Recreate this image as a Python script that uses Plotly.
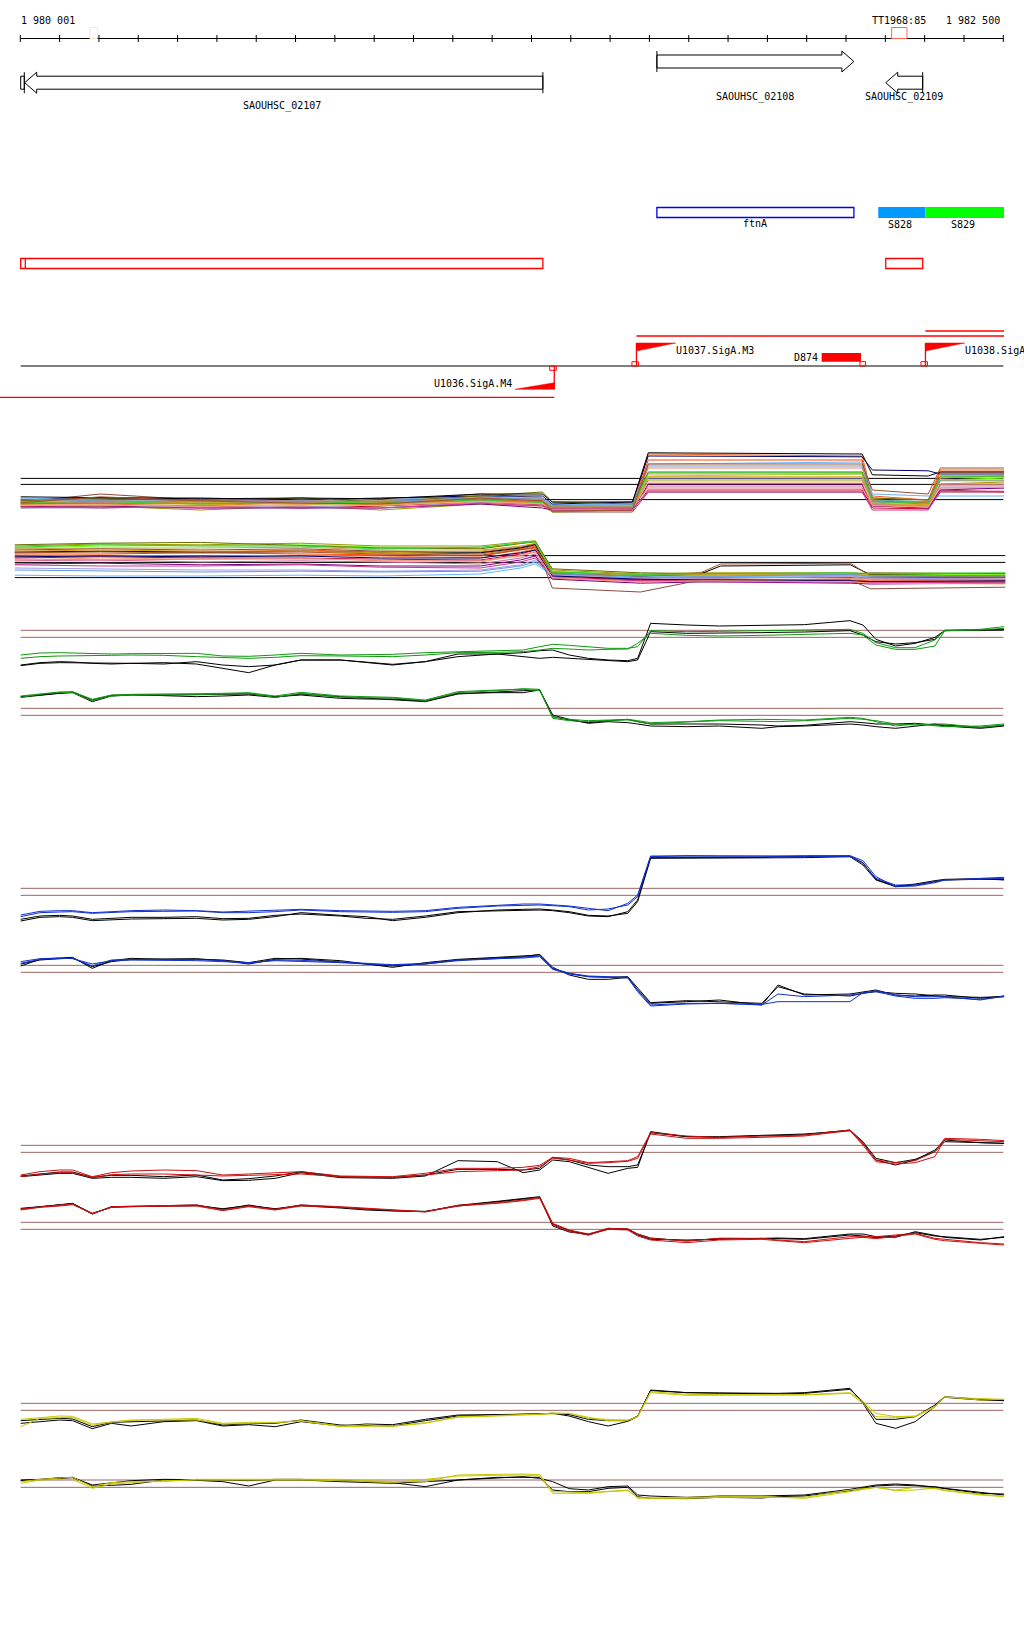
import plotly.graph_objects as go

# ======================= DATA =======================
VIEW_START = 1980001
VIEW_END = 1982500
RULER_TICKS = list(range(1980000, 1982501, 100))
RULER_LEFT_LABEL = "1 980 001"
RULER_RIGHT_LABEL = "1 982 500"

GENE_NAMES = ["SAOUHSC_02107", "SAOUHSC_02108", "SAOUHSC_02109"]
GENE_STARTS = [1979990, 1981619, 1982201]
GENE_ENDS = [1981329, 1982120, 1982295]
GENE_STRANDS = ["-", "+", "-"]

TERM_NAMES = ["", "TT1968:85"]
TERM_STARTS = [1980177, 1982216]
TERM_ENDS = [1980196, 1982255]

OPERON_NAMES = ["ftnA"]
OPERON_STARTS = [1981619]
OPERON_ENDS = [1982120]

SRNA_NAMES = ["S828", "S829"]
SRNA_STARTS = [1982182, 1982302]
SRNA_ENDS = [1982302, 1982502]

REGION_STARTS = [1979990, 1982201]
REGION_ENDS = [1981329, 1982295]

TSS_NAMES = ["U1036.SigA.M4", "U1037.SigA.M3", "U1038.SigA"]
TSS_POS = [1981358, 1981567, 1982302]
TSS_STRANDS = ["-", "+", "+"]
TRANSCRIPT_ENDS = [1979948, 1982502, 1982502]

TERM_SITE_NAMES = ["D874"]
TERM_SITE_STARTS = [1982038]
TERM_SITE_ENDS = [1982138]

# ---- panel A (many conditions), probe positions ----
A1_POS = [1980001, 1980204, 1980459, 1980713, 1980916, 1981170, 1981328, 1981353,
          1981557, 1981597, 1982141, 1982167, 1982309, 1982340, 1982502]
A2_POS = [1979986, 1980204, 1980459, 1980713, 1980916, 1981170, 1981272, 1981310,
          1981353, 1981577, 1981730, 1981781, 1982111, 1982162, 1982505]

A1_SERIES = [
    [24.5, 26.5, 25.0, 24.5, 24.8, 26.5, 25.5, 22.0, 22.0, 27.0, 27.0, 24.0, 23.5, 27.5, 27.0],
    [24.0, 24.0, 23.5, 24.5, 24.0, 25.0, 24.5, 23.0, 23.0, 36.5, 36.0, 26.0, 25.0, 32.5, 32.5],
    [23.0, 23.5, 22.5, 23.5, 22.5, 24.0, 23.5, 22.0, 22.5, 30.0, 30.0, 24.5, 24.0, 29.0, 29.5],
    [24.5, 24.0, 24.5, 24.0, 23.5, 25.5, 25.0, 23.5, 23.5, 31.0, 31.5, 25.0, 24.5, 30.0, 30.5],
    [25.5, 25.0, 25.0, 25.5, 25.0, 26.0, 25.5, 23.8, 24.0, 34.0, 34.5, 26.5, 26.0, 26.0, 26.0],
    [25.0, 25.5, 25.5, 25.0, 25.5, 26.0, 26.0, 24.0, 24.5, 36.0, 35.8, 32.5, 32.3, 31.5, 31.5],
    [24.0, 24.5, 25.0, 24.8, 24.0, 25.0, 24.0, 23.0, 23.0, 28.5, 28.5, 23.5, 23.0, 28.0, 28.0],
    [23.5, 23.0, 23.5, 23.0, 23.5, 24.5, 23.8, 22.5, 22.5, 27.5, 27.5, 23.0, 22.8, 27.0, 27.0],
    [24.8, 25.0, 24.0, 25.0, 24.5, 25.5, 25.0, 23.5, 23.5, 33.0, 33.0, 25.5, 25.0, 30.5, 31.0],
    [23.5, 23.5, 23.0, 23.0, 23.0, 24.0, 23.0, 22.5, 22.5, 29.0, 29.0, 23.5, 23.0, 27.5, 28.0],
    [24.0, 24.8, 24.5, 24.5, 24.8, 25.8, 25.2, 23.0, 23.0, 31.5, 31.5, 24.0, 23.5, 29.0, 29.0],
    [23.0, 23.0, 23.5, 23.5, 23.0, 24.5, 24.0, 23.0, 23.0, 30.5, 30.5, 24.5, 24.5, 28.5, 28.5],
    [24.8, 25.5, 24.8, 25.5, 24.5, 26.0, 27.0, 24.5, 24.0, 32.0, 32.0, 25.5, 25.0, 31.0, 31.0],
    [24.2, 24.2, 24.2, 24.0, 24.3, 25.2, 24.6, 23.2, 23.2, 35.0, 35.0, 24.8, 24.3, 32.0, 32.0],
    [23.8, 23.6, 23.8, 24.2, 23.8, 24.8, 24.2, 22.8, 22.8, 30.8, 30.8, 24.2, 23.8, 29.8, 29.8],
    [24.6, 24.4, 24.8, 24.4, 24.6, 25.4, 24.8, 23.4, 23.4, 28.0, 28.0, 23.8, 23.2, 28.8, 28.8],
    [25.2, 24.8, 24.6, 24.8, 24.6, 25.6, 25.2, 23.6, 23.8, 33.5, 33.5, 25.0, 24.6, 30.0, 30.0],
    [24.4, 24.6, 24.0, 24.6, 24.2, 25.0, 24.4, 23.2, 23.2, 31.8, 31.8, 24.6, 24.2, 30.8, 30.8],
    [23.6, 23.8, 23.4, 23.8, 23.6, 24.6, 24.0, 22.6, 22.6, 29.5, 29.5, 23.6, 23.2, 28.2, 28.2],
    [25.8, 25.5, 25.3, 25.5, 25.3, 26.5, 26.5, 24.5, 24.5, 36.8, 36.5, 31.3, 31.0, 32.0, 32.0],
    [24.3, 25.8, 24.8, 24.2, 24.0, 25.5, 24.8, 22.2, 22.5, 34.0, 34.0, 27.5, 26.5, 33.0, 33.0],
    [23.2, 23.2, 23.0, 23.2, 23.0, 24.2, 23.5, 22.8, 22.8, 27.0, 27.0, 22.5, 22.5, 27.2, 27.2],
]
A2_SERIES = [
    [13.5, 14.0, 13.8, 14.2, 13.5, 13.5, 14.5, 14.8, 7.5, 6.5, 6.8, 6.8, 6.8, 6.5, 6.5],
    [13.0, 13.5, 13.6, 13.8, 13.2, 13.0, 14.2, 14.5, 7.2, 6.2, 6.5, 6.5, 6.6, 6.4, 6.3],
    [13.8, 14.2, 14.4, 13.6, 13.0, 12.8, 14.0, 14.6, 7.8, 6.8, 6.6, 6.6, 6.4, 6.8, 6.6],
    [12.8, 13.0, 13.0, 13.2, 12.5, 12.5, 13.5, 14.0, 7.0, 6.0, 6.2, 6.2, 6.2, 5.8, 5.8],
    [12.0, 12.2, 12.0, 12.5, 12.0, 11.5, 12.8, 13.5, 6.5, 5.5, 5.8, 5.8, 5.5, 5.5, 5.2],
    [11.5, 11.5, 11.8, 11.5, 11.2, 11.0, 12.5, 13.0, 6.2, 5.0, 5.2, 5.2, 5.0, 4.8, 5.0],
    [11.0, 11.2, 11.0, 11.2, 11.0, 10.5, 12.0, 12.8, 6.0, 4.8, 5.0, 5.0, 5.2, 5.0, 4.8],
    [10.5, 10.8, 10.5, 10.5, 10.2, 10.0, 11.5, 12.5, 5.8, 5.0, 5.0, 5.0, 4.5, 4.2, 4.5],
    [10.2, 10.0, 10.2, 10.5, 9.8, 9.8, 11.0, 12.0, 6.0, 5.5, 5.5, 5.5, 5.8, 5.2, 5.0],
    [9.8, 10.0, 9.5, 9.8, 9.5, 9.0, 10.5, 11.5, 5.5, 4.5, 4.8, 4.8, 4.8, 4.5, 4.5],
    [9.0, 9.2, 8.8, 9.0, 8.5, 8.5, 10.0, 11.0, 5.2, 4.2, 4.5, 4.5, 4.2, 4.0, 4.2],
    [8.8, 8.5, 8.5, 8.8, 8.2, 8.0, 9.5, 10.5, 5.5, 4.8, 4.6, 4.6, 4.5, 4.4, 4.6],
    [8.0, 7.8, 7.5, 7.5, 7.2, 7.5, 8.8, 10.0, 5.8, 5.5, 5.5, 5.5, 6.0, 5.5, 5.2],
    [6.2, 6.0, 6.0, 6.2, 6.0, 6.5, 8.0, 9.0, 6.2, 5.8, 5.8, 5.8, 6.2, 5.8, 5.8],
    [12.5, 12.8, 12.5, 12.8, 12.2, 12.0, 13.2, 14.0, 3.0, 2.0, 5.0, 5.0, 5.0, 2.8, 3.2],
    [12.0, 12.2, 12.0, 12.2, 11.8, 11.8, 13.0, 13.8, 6.8, 6.0, 6.5, 8.5, 8.8, 6.3, 6.0],
    [11.8, 12.0, 11.8, 12.0, 11.5, 11.2, 12.6, 13.2, 6.6, 6.0, 6.8, 9.0, 9.2, 6.0, 5.8],
    [12.2, 12.5, 12.2, 12.2, 11.8, 12.2, 13.4, 14.2, 6.8, 6.2, 6.4, 6.4, 6.5, 6.2, 6.0],
    [10.8, 11.0, 10.8, 11.0, 10.5, 10.5, 11.8, 12.5, 6.0, 5.2, 5.0, 5.0, 4.8, 4.6, 4.8],
    [7.5, 7.2, 7.0, 7.2, 7.0, 7.2, 8.5, 9.5, 6.5, 6.0, 6.0, 6.0, 6.4, 6.0, 6.0],
    [10.0, 10.5, 10.2, 10.2, 10.0, 9.5, 11.2, 12.2, 5.6, 4.5, 4.8, 4.8, 4.6, 4.2, 4.0],
    [13.2, 13.8, 13.5, 13.5, 12.8, 13.2, 14.2, 14.6, 7.0, 6.4, 6.6, 6.6, 6.8, 6.6, 6.8],
]
A_THRESHOLDS_1 = [30.4, 28.9, 25.1]
A_THRESHOLDS_2 = [11.1, 9.4, 5.6]

# ---- panels B-E probe positions ----
PROBE_POS = [1980001, 1980050, 1980100, 1980133, 1980183, 1980232, 1980282, 1980365,
             1980448, 1980515, 1980581, 1980648, 1980714, 1980814, 1980880, 1980947,
             1981030, 1981113, 1981213, 1981279, 1981321, 1981354, 1981396, 1981445,
             1981495, 1981545, 1981570, 1981603, 1981695, 1981778, 1981886, 1981927,
             1981994, 1982110, 1982143, 1982176, 1982226, 1982276, 1982326, 1982351,
             1982442, 1982502]

B1_GREEN_1 = [25.5,26.1,26.2,26.1,26.0,25.8,25.9,26.0,26.0,25.2,25.1,25.5,26.0,25.5,25.6,25.7,26.2,26.5,26.7,27.0,28.0,28.7,28.4,28.0,27.5,27.5,28.0,32.8,32.5,32.6,32.7,32.8,33.0,33.2,32.0,29.2,27.7,27.7,30.0,33.0,33.2,34.0]
B1_GREEN_2 = [24.5,25.0,25.2,25.2,25.2,25.4,25.5,25.4,25.0,24.8,24.5,24.8,25.3,25.2,25.0,25.0,25.5,26.2,26.3,26.5,27.0,27.5,27.3,27.0,27.2,27.3,29.0,32.0,31.4,31.2,31.4,31.5,31.6,32.0,31.5,28.5,27.2,27.2,28.2,32.8,33.0,33.5]
B1_BLACK_1 = [22.3,23.0,23.2,23.2,23.0,23.0,23.0,22.8,23.5,22.5,22.0,22.5,24.0,24.0,23.3,22.7,23.5,25.0,25.8,25.0,24.5,24.8,24.5,24.0,23.7,23.5,24.0,32.5,32.0,32.0,32.2,32.3,32.4,32.8,31.5,29.5,28.8,29.2,30.2,32.8,32.8,33.0]
B1_BLACK_2 = [22.5,23.2,23.5,23.4,23.0,22.8,23.0,23.2,22.8,21.5,20.2,22.5,24.0,24.0,23.2,22.5,23.5,25.8,25.8,26.2,26.8,27.0,25.5,24.5,24.0,23.8,24.5,35.0,34.5,34.2,34.4,34.5,34.6,35.8,34.5,30.2,28.2,29.0,30.8,32.8,33.0,33.2]
B2_GREEN_1 = [13.2,13.8,14.4,14.5,12.2,13.5,13.7,13.8,13.8,14.0,14.2,13.2,14.3,13.2,13.0,12.8,12.0,14.5,15.0,15.2,14.8,7.0,6.2,5.8,6.0,6.0,5.5,4.8,5.4,5.8,5.6,5.5,5.8,6.5,6.2,5.8,4.8,4.5,4.8,4.8,3.8,4.5]
B2_GREEN_2 = [12.8,13.7,14.3,14.2,11.8,13.2,13.5,13.5,13.6,13.8,14.0,12.8,14.0,12.8,12.8,12.6,11.8,14.2,14.8,15.4,15.2,6.5,5.8,5.5,5.8,6.2,5.8,5.2,5.5,6.0,6.2,6.2,6.0,6.8,6.5,5.5,4.2,4.8,4.4,4.0,4.2,4.8]
B2_BLACK_1 = [12.8,13.5,14.0,14.2,11.5,13.2,13.5,13.5,13.5,13.7,13.8,13.0,13.5,12.5,12.3,12.3,11.7,14.0,14.2,14.2,15.0,7.0,6.0,5.2,5.8,6.2,5.5,4.8,4.8,4.8,4.5,4.2,4.4,5.5,5.2,4.8,4.8,5.0,4.5,4.5,3.8,4.4]
B2_BLACK_2 = [13.0,13.6,14.2,14.4,12.0,13.4,13.6,13.4,13.0,13.2,13.5,12.8,13.8,13.0,12.5,12.0,11.5,13.8,14.5,14.8,15.0,7.5,6.2,5.0,5.5,5.2,4.8,4.2,4.0,4.2,3.5,4.0,4.2,4.8,4.5,4.0,3.5,4.2,4.8,4.2,3.5,4.2]
B_THRESHOLDS = [32.9, 30.8, 9.5, 7.4]

C1_BLUE_1 = [28.0,29.2,29.4,29.5,29.0,29.3,29.5,29.6,29.7,29.2,29.2,29.5,30.0,29.5,29.4,29.3,29.5,30.5,31.2,31.4,31.5,31.3,31.0,30.0,30.3,31.5,34.0,46.0,46.3,46.2,46.2,46.2,46.2,46.0,44.0,39.5,37.5,37.5,38.5,39.0,39.3,39.5]
C1_BLUE_2 = [28.5,29.6,29.8,29.8,29.2,29.6,29.8,30.0,29.8,29.4,29.6,30.0,30.2,29.8,29.6,29.6,29.8,30.8,31.4,31.8,31.8,31.5,31.2,30.5,29.8,32.0,34.5,46.2,46.2,46.0,46.0,46.2,46.3,46.3,44.8,40.0,37.0,37.2,38.2,39.0,39.5,39.8]
C1_BLACK_1 = [26.7,27.8,28.0,27.8,26.8,27.0,27.3,27.4,27.5,27.0,27.2,28.0,29.2,28.4,28.0,26.8,27.8,29.2,30.0,30.2,30.3,30.0,29.5,28.4,28.2,29.0,32.5,45.5,45.5,45.5,45.6,45.7,45.7,46.0,43.5,39.0,37.0,37.5,38.5,39.0,39.2,39.2]
C1_BLACK_2 = [27.2,28.2,28.4,28.2,27.2,27.5,27.8,27.8,28.0,27.4,27.5,28.4,28.8,28.2,27.5,27.2,28.2,29.5,29.8,30.0,30.0,29.8,29.2,28.2,28.0,29.5,33.0,45.8,45.8,45.7,45.8,46.0,46.0,46.2,44.2,39.2,37.2,37.8,38.8,39.2,39.4,39.0]
C2_BLUE_1 = [14.0,15.2,15.4,15.5,13.2,15.0,15.1,15.2,15.1,14.8,14.0,15.0,14.9,14.4,13.9,13.6,14.0,15.0,15.4,15.8,16.2,12.5,11.0,10.2,9.9,9.8,6.0,1.5,2.0,2.0,1.5,4.8,4.0,4.5,5.0,5.8,4.5,4.0,4.0,4.0,3.0,4.2]
C2_BLUE_2 = [14.5,15.4,15.6,15.4,13.8,14.8,15.0,15.0,14.8,14.5,14.2,14.8,14.6,14.2,13.8,13.4,13.8,14.8,15.4,15.6,16.0,12.2,10.8,10.0,9.8,9.6,5.5,1.2,1.8,2.0,1.7,2.5,2.5,2.5,5.2,5.5,4.2,3.5,3.5,3.7,3.2,4.0]
C2_BLACK_1 = [13.2,15.2,15.6,15.8,12.5,14.8,15.5,15.2,15.2,15.0,14.2,15.5,15.3,14.4,13.6,13.2,13.8,15.0,15.6,16.0,16.7,12.8,10.5,9.2,9.2,9.8,6.0,2.0,2.5,3.0,1.5,7.5,4.5,4.8,5.4,6.0,4.5,4.2,4.5,4.5,3.5,4.2]
C2_BLACK_2 = [13.8,15.0,15.4,15.6,13.0,14.5,15.2,15.4,15.4,14.8,13.8,15.2,15.5,14.8,13.8,12.8,14.2,15.2,15.8,16.2,16.5,12.4,11.0,10.0,9.8,10.0,6.5,2.2,2.8,2.5,2.0,7.0,4.8,4.2,5.0,5.5,5.0,4.8,4.2,4.0,3.8,4.0]
C_THRESHOLDS = [36.5, 34.4, 13.4, 11.3]

D1_RED_1 = [22.5,23.5,24.0,24.0,22.0,23.2,23.7,24.0,23.8,22.5,22.8,23.2,23.5,22.2,22.1,22.0,23.0,24.5,24.5,24.8,25.4,27.8,27.5,26.2,26.5,26.8,28.0,35.2,34.2,33.8,34.2,34.2,34.5,36.0,32.0,27.0,26.2,26.8,29.5,33.5,33.2,32.8]
D1_RED_2 = [22.0,22.8,23.2,23.2,21.8,22.6,22.8,22.8,22.5,22.2,22.4,22.5,22.8,22.0,21.8,21.7,22.5,23.5,23.8,24.0,25.0,27.5,27.0,26.0,26.2,26.6,27.5,34.8,33.5,33.5,33.8,34.0,34.2,35.8,31.5,26.5,25.8,26.2,28.0,33.2,32.8,32.5]
D1_BLACK_1 = [22.0,22.5,23.0,23.0,21.5,21.8,21.8,21.5,22.0,20.8,20.9,21.5,23.2,21.7,21.6,21.5,22.2,26.8,26.5,23.2,24.0,27.0,26.5,24.8,23.0,24.5,24.8,35.5,34.0,34.0,34.5,34.5,34.8,35.8,32.0,27.0,25.5,27.0,30.0,33.0,32.2,32.0]
D1_BLACK_2 = [22.2,22.8,23.4,23.4,21.8,22.4,22.4,22.0,22.5,21.0,21.4,22.2,23.5,22.0,21.9,21.8,22.5,24.2,24.2,24.0,24.5,27.8,27.0,25.5,25.0,25.0,25.5,35.2,34.0,33.8,34.3,34.3,34.6,36.0,32.5,27.5,26.2,27.2,29.5,32.5,32.2,32.0]
D2_RED_1 = [12.3,13.0,13.5,13.8,10.8,13.0,13.1,13.3,13.5,12.0,13.2,12.2,13.5,13.0,12.6,12.2,11.5,13.4,14.2,15.0,15.8,8.0,6.0,4.8,6.5,6.3,4.8,3.5,2.7,3.5,3.5,3.0,2.5,4.0,4.0,4.0,4.5,5.0,3.5,3.2,2.2,1.8]
D2_RED_2 = [12.0,12.8,13.2,13.6,11.0,12.8,13.0,13.0,13.2,11.8,13.0,12.0,13.2,12.8,12.4,12.0,11.4,13.2,14.0,14.8,15.5,7.5,5.5,4.5,6.2,6.0,4.2,3.0,2.2,3.0,3.2,2.8,2.2,3.5,3.8,3.4,4.0,4.8,3.2,2.8,2.0,1.5]
D2_BLACK_1 = [12.3,13.0,13.6,14.0,10.8,13.0,13.1,13.3,13.5,12.2,13.5,12.2,13.5,12.8,12.2,11.8,11.5,13.4,14.6,15.4,16.0,7.8,5.8,4.5,6.5,6.3,4.8,3.6,2.7,3.5,3.5,3.4,3.2,4.5,4.2,3.7,4.2,5.2,4.2,4.0,3.2,3.8]
D2_BLACK_2 = [12.5,13.1,13.7,13.9,11.0,12.8,13.0,13.2,13.3,12.4,13.3,12.4,13.3,12.6,12.0,11.7,11.6,13.2,14.4,15.2,15.8,7.2,5.4,4.8,6.2,6.2,4.5,3.2,3.0,3.2,3.4,3.6,3.4,4.8,4.8,4.0,3.8,5.5,4.4,3.8,3.0,4.0]
D_THRESHOLDS = [31.4, 29.3, 8.3, 6.2]

E1_YELLOW_1 = [30.2,30.8,31.2,31.1,28.8,29.4,29.9,30.2,30.5,29.0,29.3,29.3,29.8,28.2,28.5,28.1,29.0,31.0,31.3,31.5,31.8,32.1,32.0,30.8,29.8,30.0,31.0,38.5,37.7,37.6,37.5,37.5,37.6,38.2,35.5,32.0,31.0,31.2,34.0,37.0,36.0,36.2]
E1_YELLOW_2 = [28.0,30.5,30.7,30.8,28.4,29.4,30.0,30.0,30.0,28.8,29.0,29.2,29.7,28.0,28.1,28.2,29.2,30.8,31.2,31.5,31.7,31.9,32.0,30.5,30.2,29.9,31.0,38.2,37.4,37.4,37.4,37.5,37.5,38.0,35.0,31.0,30.8,31.0,33.8,36.8,36.4,36.2]
E1_BLACK_1 = [29.0,29.5,30.0,29.8,27.4,29.0,28.2,29.5,29.8,28.2,28.6,28.0,29.5,28.2,28.8,28.6,30.2,31.5,31.6,31.7,31.8,32.0,31.2,29.5,28.2,29.6,31.0,39.0,38.2,38.1,38.0,38.0,38.2,39.5,35.0,29.0,27.5,29.5,34.0,36.8,36.0,35.8]
E1_BLACK_2 = [29.8,30.2,30.5,30.3,28.0,29.3,29.5,29.8,30.0,28.5,28.9,29.0,30.0,28.5,28.3,28.2,29.8,31.2,31.5,31.7,31.9,32.0,31.6,30.2,29.8,29.8,31.2,38.8,38.2,38.0,37.8,37.8,38.0,39.2,35.5,30.2,30.2,31.0,34.5,37.0,36.2,36.0]
E2_YELLOW_1 = [11.5,12.2,12.6,12.8,10.0,11.2,11.5,11.5,12.2,12.2,12.2,12.2,12.2,12.2,11.8,11.5,11.5,13.5,13.7,13.8,13.6,8.5,8.4,8.2,8.6,9.0,6.5,6.6,6.8,7.0,7.0,6.8,6.5,8.5,9.2,9.8,8.8,9.0,9.6,9.0,7.7,7.2]
E2_YELLOW_2 = [11.0,12.0,12.2,12.2,9.5,10.8,11.2,11.8,12.0,12.0,12.1,12.2,12.0,11.8,11.5,11.2,12.2,13.2,13.4,13.5,13.2,8.0,8.0,8.0,8.5,8.8,6.8,6.5,6.5,6.8,6.8,6.8,6.8,9.0,9.5,9.8,9.0,9.8,9.4,8.8,7.5,7.0]
E2_BLACK_1 = [11.8,12.0,12.4,12.7,10.2,10.4,10.7,12.0,11.9,11.5,10.2,12.0,12.0,11.5,11.2,11.0,11.5,12.0,12.6,13.0,12.5,11.5,9.4,9.0,10.0,10.2,7.5,7.2,6.8,7.2,7.2,7.3,7.5,9.2,9.8,10.5,10.8,10.5,9.8,9.4,8.0,7.8]
E2_BLACK_2 = [12.0,12.2,12.7,12.8,10.5,11.2,11.8,12.2,12.2,12.0,11.8,12.2,12.2,11.7,11.4,11.2,10.0,12.0,12.8,12.8,12.8,9.0,8.5,8.5,9.5,9.8,7.0,6.5,6.4,6.8,6.6,7.0,7.2,8.8,9.5,10.2,10.5,10.2,10.0,9.5,8.2,7.5]
E_THRESHOLDS = [35.0, 32.9, 12.0, 9.8]

# ======================= STYLE / LAYOUT =======================
W, H = 1024, 1640
PX_START, PX_END = 20.7, 1003.3
BP_PER_PX = (VIEW_END - VIEW_START) / (PX_END - PX_START)
X_RANGE = [VIEW_START - PX_START * BP_PER_PX, VIEW_START + (W - PX_START) * BP_PER_PX]
FONT = "DejaVu Sans Mono"
RED = "#ff0000"
THR_COLOR = "#9c6660"

A_COLORS = ["#8c4b3c", "#e8601c", "#999900", "#66ff00", "#66b3ff", "#000066", "#cc6699",
            "#cc0033", "#ff7f50", "#800080", "#c8a050", "#9999ee", "#6b6b00", "#ff4500",
            "#d4a017", "#dd7788", "#6699cc", "#33cc33", "#ffa07a", "#000000", "#a0522d",
            "#cc3399"]
A2_COLORS = ["#999900", "#66ff00", "#6b6b00", "#c8a050", "#e8601c", "#ff4500", "#ff7f50",
             "#cc0033", "#dd7788", "#cc6699", "#800080", "#cc3399", "#9999ee", "#66b3ff",
             "#8c4b3c", "#000000", "#a0522d", "#d4a017", "#000066", "#6699cc", "#ffa07a",
             "#33cc33"]


def bp(px_len):
    return px_len * BP_PER_PX


fig = go.Figure()
shapes = []
annotations = []


def text(x, y, s, anchor="center", xshift=0, color="black"):
    annotations.append(dict(x=x, y=y, xref="x", yref="y", text=s, showarrow=False,
                            xanchor=anchor, yanchor="middle", xshift=xshift,
                            font=dict(family=FONT, size=10, color=color)))


def rect(x0, x1, y0, y1, line=None, fill=None, width=1.2):
    shapes.append(dict(type="rect", xref="x", yref="y", x0=x0, x1=x1, y0=y0, y1=y1,
                       line=dict(color=line or "rgba(0,0,0,0)", width=width if line else 0),
                       fillcolor=fill or "rgba(0,0,0,0)"))


def seg(x0, x1, y0, y1, color="black", width=1):
    shapes.append(dict(type="line", xref="x", yref="y", x0=x0, x1=x1, y0=y0, y1=y1,
                       line=dict(color=color, width=width)))


def path(points, line="black", fill="white", width=1):
    d = "M " + " L ".join(f"{x},{y}" for x, y in points) + " Z"
    shapes.append(dict(type="path", xref="x", yref="y", path=d,
                       line=dict(color=line, width=width), fillcolor=fill))


# ---- ruler ----
RULER_Y = 38.5
fig.add_trace(go.Scatter(x=[VIEW_START, VIEW_END], y=[RULER_Y, RULER_Y], mode="lines",
                         line=dict(color="black", width=1), yaxis="y", hoverinfo="skip"))
fig.add_trace(go.Scatter(x=RULER_TICKS, y=[RULER_Y] * len(RULER_TICKS), mode="markers",
                         marker=dict(symbol="line-ns", size=5, color="black",
                                     line=dict(width=1, color="black")),
                         yaxis="y", hoverinfo="skip"))
text(VIEW_START, 20, RULER_LEFT_LABEL, anchor="left", xshift=-2)
text(VIEW_END, 20, RULER_RIGHT_LABEL, anchor="right", xshift=-1)

TERM_COLORS = ["#fde0d2", "#ff6a4d"]
for name, s, e, c in zip(TERM_NAMES, TERM_STARTS, TERM_ENDS, TERM_COLORS):
    rect(s, e, 27.5, 38.5, line=c, width=1)
    if name:
        text((s + e) / 2, 20, name)

# ---- genes ----
HEAD = bp(12)
ROW = {"+": (61.5, 13, 21), "-": (82.7, 13, 21)}
GENE_LABEL_Y = [106, 97, 97]
for name, s, e, strand, ly in zip(GENE_NAMES, GENE_STARTS, GENE_ENDS, GENE_STRANDS, GENE_LABEL_Y):
    yc, bh, hh = ROW[strand]
    x0 = s
    if s < VIEW_START:
        # truncated gene: small stub at the view edge
        rect(VIEW_START, VIEW_START + bp(3.6), yc - bh / 2, yc + bh / 2, line="black", width=1)
        seg(VIEW_START + bp(3.6), VIEW_START + bp(3.6), yc - hh / 2, yc + hh / 2)
        x0 = VIEW_START + bp(4)
    if strand == "+":
        hb = e - HEAD
        pts = [(x0, yc - bh / 2), (hb, yc - bh / 2), (hb, yc - hh / 2), (e, yc),
               (hb, yc + hh / 2), (hb, yc + bh / 2), (x0, yc + bh / 2)]
        path(pts)
        seg(x0, x0, yc - hh / 2, yc + hh / 2)
    else:
        hb = x0 + HEAD
        pts = [(e, yc - bh / 2), (hb, yc - bh / 2), (hb, yc - hh / 2), (x0, yc),
               (hb, yc + hh / 2), (hb, yc + bh / 2), (e, yc + bh / 2)]
        path(pts)
        seg(e, e, yc - hh / 2, yc + hh / 2)
    text((max(s, VIEW_START) + e) / 2, ly, name)

# ---- operon / sRNA ----
for name, s, e in zip(OPERON_NAMES, OPERON_STARTS, OPERON_ENDS):
    rect(s, e, 207.5, 217.5, line="#0000ee", width=1.3)
    text((s + e) / 2, 223.5, name)
SRNA_COLORS = ["#0099ff", "#00ff00"]
for name, s, e, c in zip(SRNA_NAMES, SRNA_STARTS, SRNA_ENDS, SRNA_COLORS):
    rect(s, e, 207, 218, fill=c)
    text((s + e) / 2, 224, name, xshift=-2)

# ---- regions ----
for s, e in zip(REGION_STARTS, REGION_ENDS):
    x0 = max(s, VIEW_START)
    rect(x0, e, 258.5, 268.5, line=RED, width=1.3)
    if s < VIEW_START:
        seg(x0 + bp(4.6), x0 + bp(4.6), 258.5, 268.5, color=RED, width=1.3)

# ---- transcription track ----
GENOME_Y = 366
seg(VIEW_START, VIEW_END, GENOME_Y, GENOME_Y, color="black", width=1)
FLAG_LEN = 100
TRANSCRIPT_Y = [397.3, 336, 331]
for name, pos, strand, tend, ty in zip(TSS_NAMES, TSS_POS, TSS_STRANDS, TRANSCRIPT_ENDS, TRANSCRIPT_Y):
    seg(pos, tend, ty, ty, color=RED, width=1.3)
    rect(pos - bp(4.5), pos + bp(2), GENOME_Y - 4.3 if strand == "+" else GENOME_Y,
         GENOME_Y if strand == "+" else GENOME_Y + 4.3, line=RED, width=1)
    if strand == "+":
        seg(pos, pos, 343, GENOME_Y, color=RED, width=1.3)
        path([(pos, 343), (pos + FLAG_LEN, 343), (pos, 351)], line=RED, fill=RED, width=0.5)
        text(pos + FLAG_LEN, 350.5, name, anchor="left", xshift=-2)
    else:
        seg(pos, pos, GENOME_Y, 389.3, color=RED, width=1.3)
        path([(pos, 389.3), (pos - FLAG_LEN, 389.3), (pos, 382.7)], line=RED, fill=RED, width=0.5)
        text(pos - FLAG_LEN, 383.5, name, anchor="right", xshift=-1)

for name, s, e in zip(TERM_SITE_NAMES, TERM_SITE_STARTS, TERM_SITE_ENDS):
    rect(s, e, 353, 361.7, fill=RED)
    rect(e - bp(1), e + bp(4.6), GENOME_Y - 4.3, GENOME_Y, line=RED, width=1)
    text(s, 357.5, name, anchor="right", xshift=-2)

# ---- expression panels ----
PANELS = {  # axis name: (top px, bottom px, value range)
    "y2": (420, 600, 45),
    "y3": (600, 740, 42),
    "y4": (840, 1010, 51),
    "y5": (1110, 1250, 42),
    "y6": (1380, 1520, 42),
}


def line(x, y, color, ax, width=1):
    fig.add_trace(go.Scatter(x=x, y=y, mode="lines", line=dict(color=color, width=width),
                             yaxis=ax, hoverinfo="skip"))


# panel A
for t in A_THRESHOLDS_1:
    line([VIEW_START, VIEW_END], [t, t], "black", "y2")
for t in A_THRESHOLDS_2:
    line([A2_POS[0], A2_POS[-1]], [t, t], "black", "y2")
for vals, c in zip(A1_SERIES, A_COLORS):
    line(A1_POS, vals, c, "y2")
for vals, c in zip(A2_SERIES, A2_COLORS):
    line(A2_POS, vals, c, "y2")

GREEN, BLUE, DRED, YELLOW = "#109910", "#1030d0", "#cc1010", "#c8c800"
GROUPS = [
    ("y3", B_THRESHOLDS, [(B1_BLACK_1, "black"), (B1_BLACK_2, "black"), (B1_GREEN_1, GREEN), (B1_GREEN_2, GREEN),
                          (B2_BLACK_1, "black"), (B2_BLACK_2, "black"), (B2_GREEN_1, GREEN), (B2_GREEN_2, GREEN)]),
    ("y4", C_THRESHOLDS, [(C1_BLACK_1, "black"), (C1_BLACK_2, "black"), (C1_BLUE_1, BLUE), (C1_BLUE_2, BLUE),
                          (C2_BLACK_1, "black"), (C2_BLACK_2, "black"), (C2_BLUE_1, BLUE), (C2_BLUE_2, BLUE)]),
    ("y5", D_THRESHOLDS, [(D1_BLACK_1, "black"), (D1_BLACK_2, "black"), (D1_RED_1, DRED), (D1_RED_2, DRED),
                          (D2_BLACK_1, "black"), (D2_BLACK_2, "black"), (D2_RED_1, DRED), (D2_RED_2, DRED)]),
    ("y6", E_THRESHOLDS, [(E1_BLACK_1, "black"), (E1_BLACK_2, "black"), (E1_YELLOW_1, YELLOW), (E1_YELLOW_2, YELLOW),
                          (E2_BLACK_1, "black"), (E2_BLACK_2, "black"), (E2_YELLOW_1, YELLOW), (E2_YELLOW_2, YELLOW)]),
]
for ax, thr, series in GROUPS:
    for t in thr:
        line([VIEW_START, VIEW_END], [t, t], THR_COLOR, ax)
    for vals, c in series:
        line(PROBE_POS, vals, c, ax)

layout_axes = {}
for ax, (top, bottom, vmax) in PANELS.items():
    key = "yaxis" + ax[1:]
    layout_axes[key] = dict(domain=[1 - bottom / H, 1 - top / H], range=[0, vmax],
                            anchor="x", visible=False, showgrid=False, zeroline=False,
                            fixedrange=True)

fig.update_layout(
    width=W, height=H, margin=dict(l=0, r=0, t=0, b=0),
    paper_bgcolor="white", plot_bgcolor="rgba(0,0,0,0)", showlegend=False,
    xaxis=dict(range=X_RANGE, domain=[0, 1], visible=False, showgrid=False, zeroline=False,
               anchor="y"),
    yaxis=dict(range=[H, 0], domain=[0, 1], visible=False, showgrid=False, zeroline=False),
    shapes=shapes, annotations=annotations,
    **layout_axes,
)

fig.write_html("out.html", config={"displayModeBar": False, "staticPlot": True},
               post_script="document.body.style.margin='0';")
